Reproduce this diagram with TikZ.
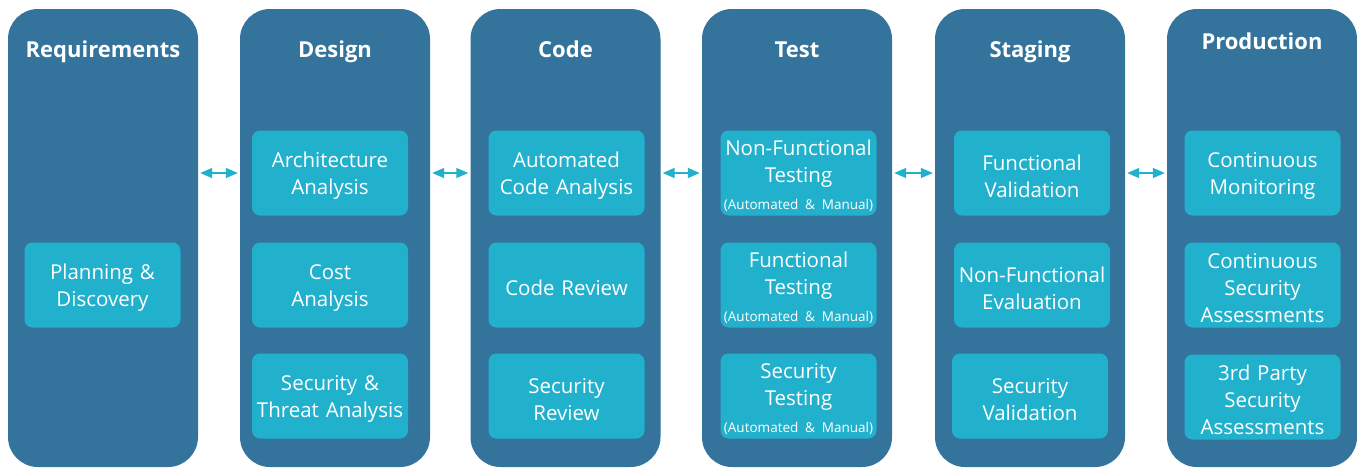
\documentclass[tikz,border=0pt]{standalone}
\usepackage{fontspec}
\setmainfont{Open Sans}
\usetikzlibrary{arrows.meta, positioning}
\definecolor{stageblue}{HTML}{33739C}
\definecolor{taskcyan}{HTML}{22B1CD}
\newcommand{\mode}{\mbox{\fontsize{13.5}{15}\selectfont (Automated \& Manual)}}

\begin{document}
\begin{tikzpicture}[x=1pt,y=1pt,
    stage/.style={fill=stageblue, rounded corners=30pt, minimum width=190pt, minimum height=458pt, inner sep=0pt},
    task/.style={fill=taskcyan, rounded corners=8pt, minimum width=156pt, minimum height=85pt, text width=156pt,
      align=center, text=white, inner sep=0pt, font=\fontsize{20.5}{27}\selectfont,
      execute at begin node={\rule{0pt}{21.5pt}}},
    title/.style={text=white, anchor=base, font=\bfseries\fontsize{22}{26}\selectfont},
    link/.style={{Triangle[width=10pt,length=12pt]}-{Triangle[width=10pt,length=12pt]}, draw=taskcyan,
      line width=1.5pt, shorten >=2pt, shorten <=2pt}]

  \useasboundingbox (0,0) rectangle (1357,-467);

  % stages
  \node[stage] (req)  at (103,-238)  {};
  \node[stage] (des)  at (335,-238)  {};
  \node[stage] (cod)  at (565.5,-238) {};
  \node[stage] (tst)  at (797,-238)  {};
  \node[stage] (stg)  at (1030,-238) {};
  \node[stage] (prd)  at (1262,-238) {};

  \node[title] at ([yshift=-49pt]req.north) {Requirements};
  \node[title] at ([yshift=-49pt]des.north) {Design};
  \node[title] at ([yshift=-49pt]cod.north) {Code};
  \node[title] at ([yshift=-49pt]tst.north) {Test};
  \node[title] at ([yshift=-49pt]stg.north) {Staging};
  \node[title] at ([yshift=-41pt]prd.north) {Production};

  % tasks
  \node[task] (plan) at (102.5,-285) {Planning \&\\Discovery};

  \node[task] (arch) at (330,-173) {Architecture\\Analysis};
  \node[task] (cost) at (330,-285) {Cost\\Analysis};
  \node[task] (thrt) at (330,-396) {Security \&\\Threat Analysis};

  \node[task] (auto) at (566.5,-173) {Automated\\Code Analysis};
  \node[task, execute at begin node={}] (crev) at (566.5,-285) {Code Review};
  \node[task] (srev) at (566.5,-396) {Security\\Review};

  \node[task] (nft)  at (798.5,-173) {Non-Functional\\Testing\\\mode};
  \node[task] (ft)   at (798.5,-285) {Functional\\Testing\\\mode};
  \node[task] (st)   at (798.5,-396) {Security\\Testing\\\mode};

  \node[task] (fval) at (1032,-173) {Functional\\Validation};
  \node[task] (nfev) at (1032,-285) {Non-Functional\\Evaluation};
  \node[task] (sval) at (1030,-396) {Security\\Validation};

  \node[task] (mon)  at (1262.5,-173) {Continuous\\Monitoring};
  \node[task] (csa)  at (1262.5,-285) {Continuous\\Security\\Assessments};
  \node[task] (tpa)  at (1262.5,-397) {3rd Party\\Security\\Assessments};

  % links between stages
  \draw[link] (req.east |- arch) -- (arch -| des.west);
  \draw[link] (des.east |- arch) -- (arch -| cod.west);
  \draw[link] (cod.east |- arch) -- (arch -| tst.west);
  \draw[link] (tst.east |- arch) -- (arch -| stg.west);
  \draw[link] (stg.east |- arch) -- (arch -| prd.west);
\end{tikzpicture}
\end{document}
